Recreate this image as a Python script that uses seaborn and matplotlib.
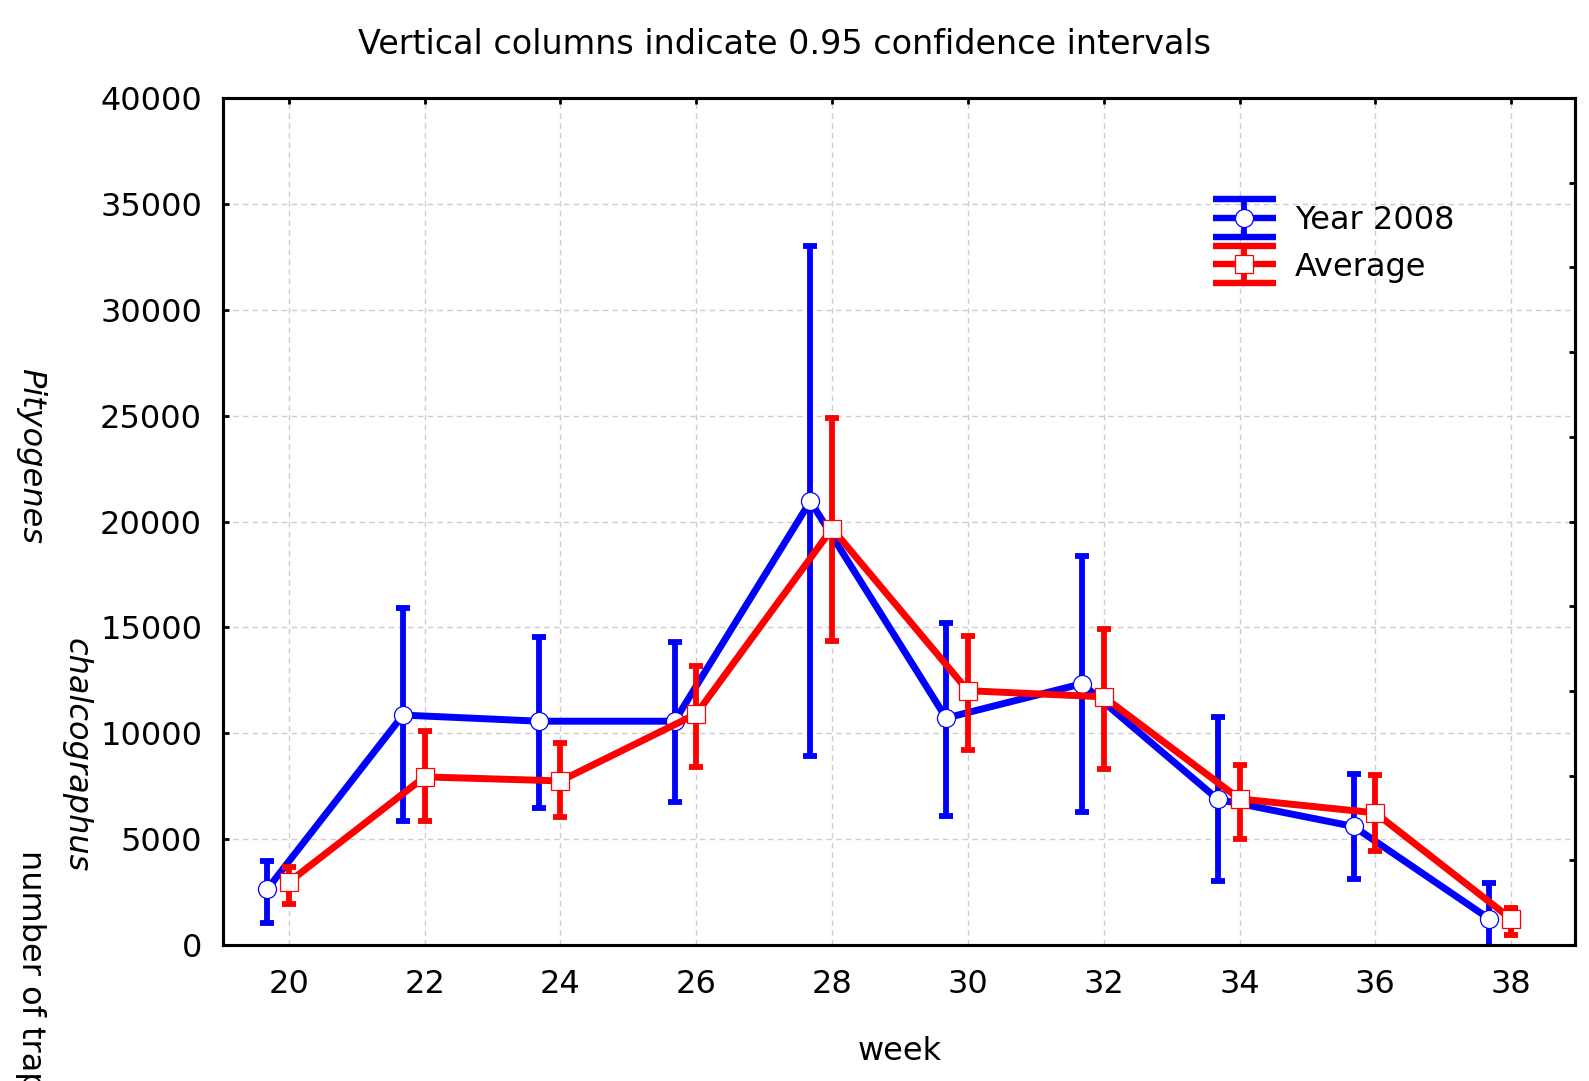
import numpy as np
import pandas as pd
import matplotlib
matplotlib.use("Agg")
import matplotlib.pyplot as plt
import seaborn as sns
from matplotlib.legend_handler import HandlerBase
from matplotlib.lines import Line2D

# ---------------- data ----------------
weeks = [20, 22, 24, 26, 28, 30, 32, 34, 36, 38]

year2008_mean = [2630, 10860, 10570, 10570, 20960, 10720, 12340, 6880, 5600, 1230]
year2008_low = [1050, 5840, 6460, 6750, 8950, 6080, 6270, 3020, 3110, -150]
year2008_high = [3970, 15930, 14545, 14300, 33010, 15215, 18370, 10790, 8100, 2950]

average_mean = [2970, 7940, 7750, 10910, 19670, 12010, 11720, 6900, 6240, 1230]
average_low = [1960, 5840, 6030, 8420, 14350, 9230, 8330, 5000, 4420, 470]
average_high = [3680, 10100, 9520, 13160, 24880, 14590, 14930, 8510, 8010, 1750]

series_labels = ["Year 2008", "Average"]
title_text = "Vertical columns indicate 0.95 confidence intervals"
xlabel_text = "week"

# ---------------- style ----------------
sns.set_style("white")
plt.rcParams["font.family"] = ["DejaVu Sans"]
plt.rcParams["text.color"] = "black"
plt.rcParams["xtick.color"] = "black"
plt.rcParams["ytick.color"] = "black"
plt.rcParams["axes.labelcolor"] = "black"

BLUE = "#0000ff"
RED = "#ff0000"
FS = 23
offset_blue = -0.32

fig = plt.figure(figsize=(15.89, 10.81), dpi=100)
ax = fig.add_axes([0.1403, 0.1258, 0.8509, 0.7835])

df_b = pd.DataFrame({"week": np.array(weeks) + offset_blue, "val": year2008_mean})
df_r = pd.DataFrame({"week": np.array(weeks, dtype=float), "val": average_mean})

def draw(df, low, high, color, marker, ms, z):
    m = df["val"].to_numpy()
    yerr = [m - np.array(low), np.array(high) - m]
    ax.errorbar(df["week"], m, yerr=yerr, fmt="none", ecolor=color,
                elinewidth=4.2, capsize=5, capthick=4.2, zorder=z)
    sns.lineplot(data=df, x="week", y="val", ax=ax, color=color, lw=5,
                 marker=marker, ms=ms, mfc="white", mec=color, mew=0.9,
                 errorbar=None, zorder=z + 0.5)

draw(df_b, year2008_low, year2008_high, BLUE, "o", 13, 3)
draw(df_r, average_low, average_high, RED, "s", 12.5, 5)

ax.set_xlim(19.03, 38.94)
ax.set_ylim(0, 40000)
ax.set_xticks(weeks)
ax.set_xticklabels([str(w) for w in weeks])
ax.set_yticks(np.arange(0, 40001, 5000))
ax.set_yticklabels([str(v) for v in range(0, 40001, 5000)])

ax.grid(True, color="#cdcdcd", linestyle=(0, (4, 3)), linewidth=1.0, zorder=0)
ax.set_axisbelow(True)

for s in ax.spines.values():
    s.set_visible(True)
    s.set_color("black")
    s.set_linewidth(2.2)

ax.tick_params(axis="x", direction="in", length=4, width=2, top=True,
               labelsize=FS, pad=17, colors="black")
ax.tick_params(axis="y", direction="in", length=4, width=2, right=False,
               labelsize=FS, pad=15, colors="black")

ax2 = ax.twinx()
ax2.set_ylim(0, 10)
ax2.set_yticks(np.arange(0, 11, 1))
ax2.tick_params(axis="y", direction="in", length=4, width=2, labelright=False)
ax2.grid(False)
for s in ax2.spines.values():
    s.set_linewidth(2.2)
    s.set_color("black")

ax.set_xlabel("")
ax.set_ylabel("")
fig.text(0.5662, 1 - 1051 / 1081, xlabel_text, ha="center", va="center", fontsize=FS)
fig.text(785 / 1589, 1 - 45 / 1081, title_text, ha="center", va="center", fontsize=24)

# y-axis label fragments
fig.text(30.5 / 1589, 1 - 456 / 1081, "Pityogenes", rotation=-90, style="italic",
         ha="center", va="center", fontsize=FS)
fig.text(76 / 1589, 1 - 755 / 1081, "chalcographus", rotation=-90, style="italic",
         ha="center", va="center", fontsize=FS)
fig.text(30.5 / 1589, 1 - 850 / 1081, "number of trapped", rotation=-90,
         ha="center", va="top", fontsize=FS)

# ---------------- legend ----------------
class HandlerCI(HandlerBase):
    def __init__(self, color, marker, ms, **kw):
        super().__init__(**kw)
        self.color, self.marker, self.ms = color, marker, ms

    def create_artists(self, legend, orig_handle, xdescent, ydescent, width,
                       height, fontsize, trans):
        x0 = -xdescent
        x1 = x0 + width
        yc = -ydescent + height / 2
        d = 13.5
        arts = []
        for yy in (yc - d, yc, yc + d):
            arts.append(Line2D([x0, x1], [yy, yy], color=self.color, lw=4.6,
                               solid_capstyle="butt", transform=trans))
        arts.append(Line2D([(x0 + x1) / 2] * 2, [yc - d, yc + d], color=self.color,
                           lw=4.2, transform=trans))
        arts.append(Line2D([(x0 + x1) / 2], [yc], marker=self.marker, ms=self.ms,
                           mfc="white", mec=self.color, mew=0.9, ls="none",
                           transform=trans))
        return arts

h1 = Line2D([], [], color=BLUE)
h2 = Line2D([], [], color=RED)
leg = ax.legend([h1, h2], series_labels,
                handler_map={h1: HandlerCI(BLUE, "o", 13), h2: HandlerCI(RED, "s", 12.5)},
                loc="center left", bbox_to_anchor=(1213 / 1589, 1 - 244 / 1081),
                bbox_transform=fig.transFigure, frameon=False, fontsize=FS,
                borderpad=0, borderaxespad=0, handlelength=1.97, handletextpad=0.6,
                labelspacing=0.48)
leg.set_zorder(10)

fig.savefig("out.png", dpi=100)
